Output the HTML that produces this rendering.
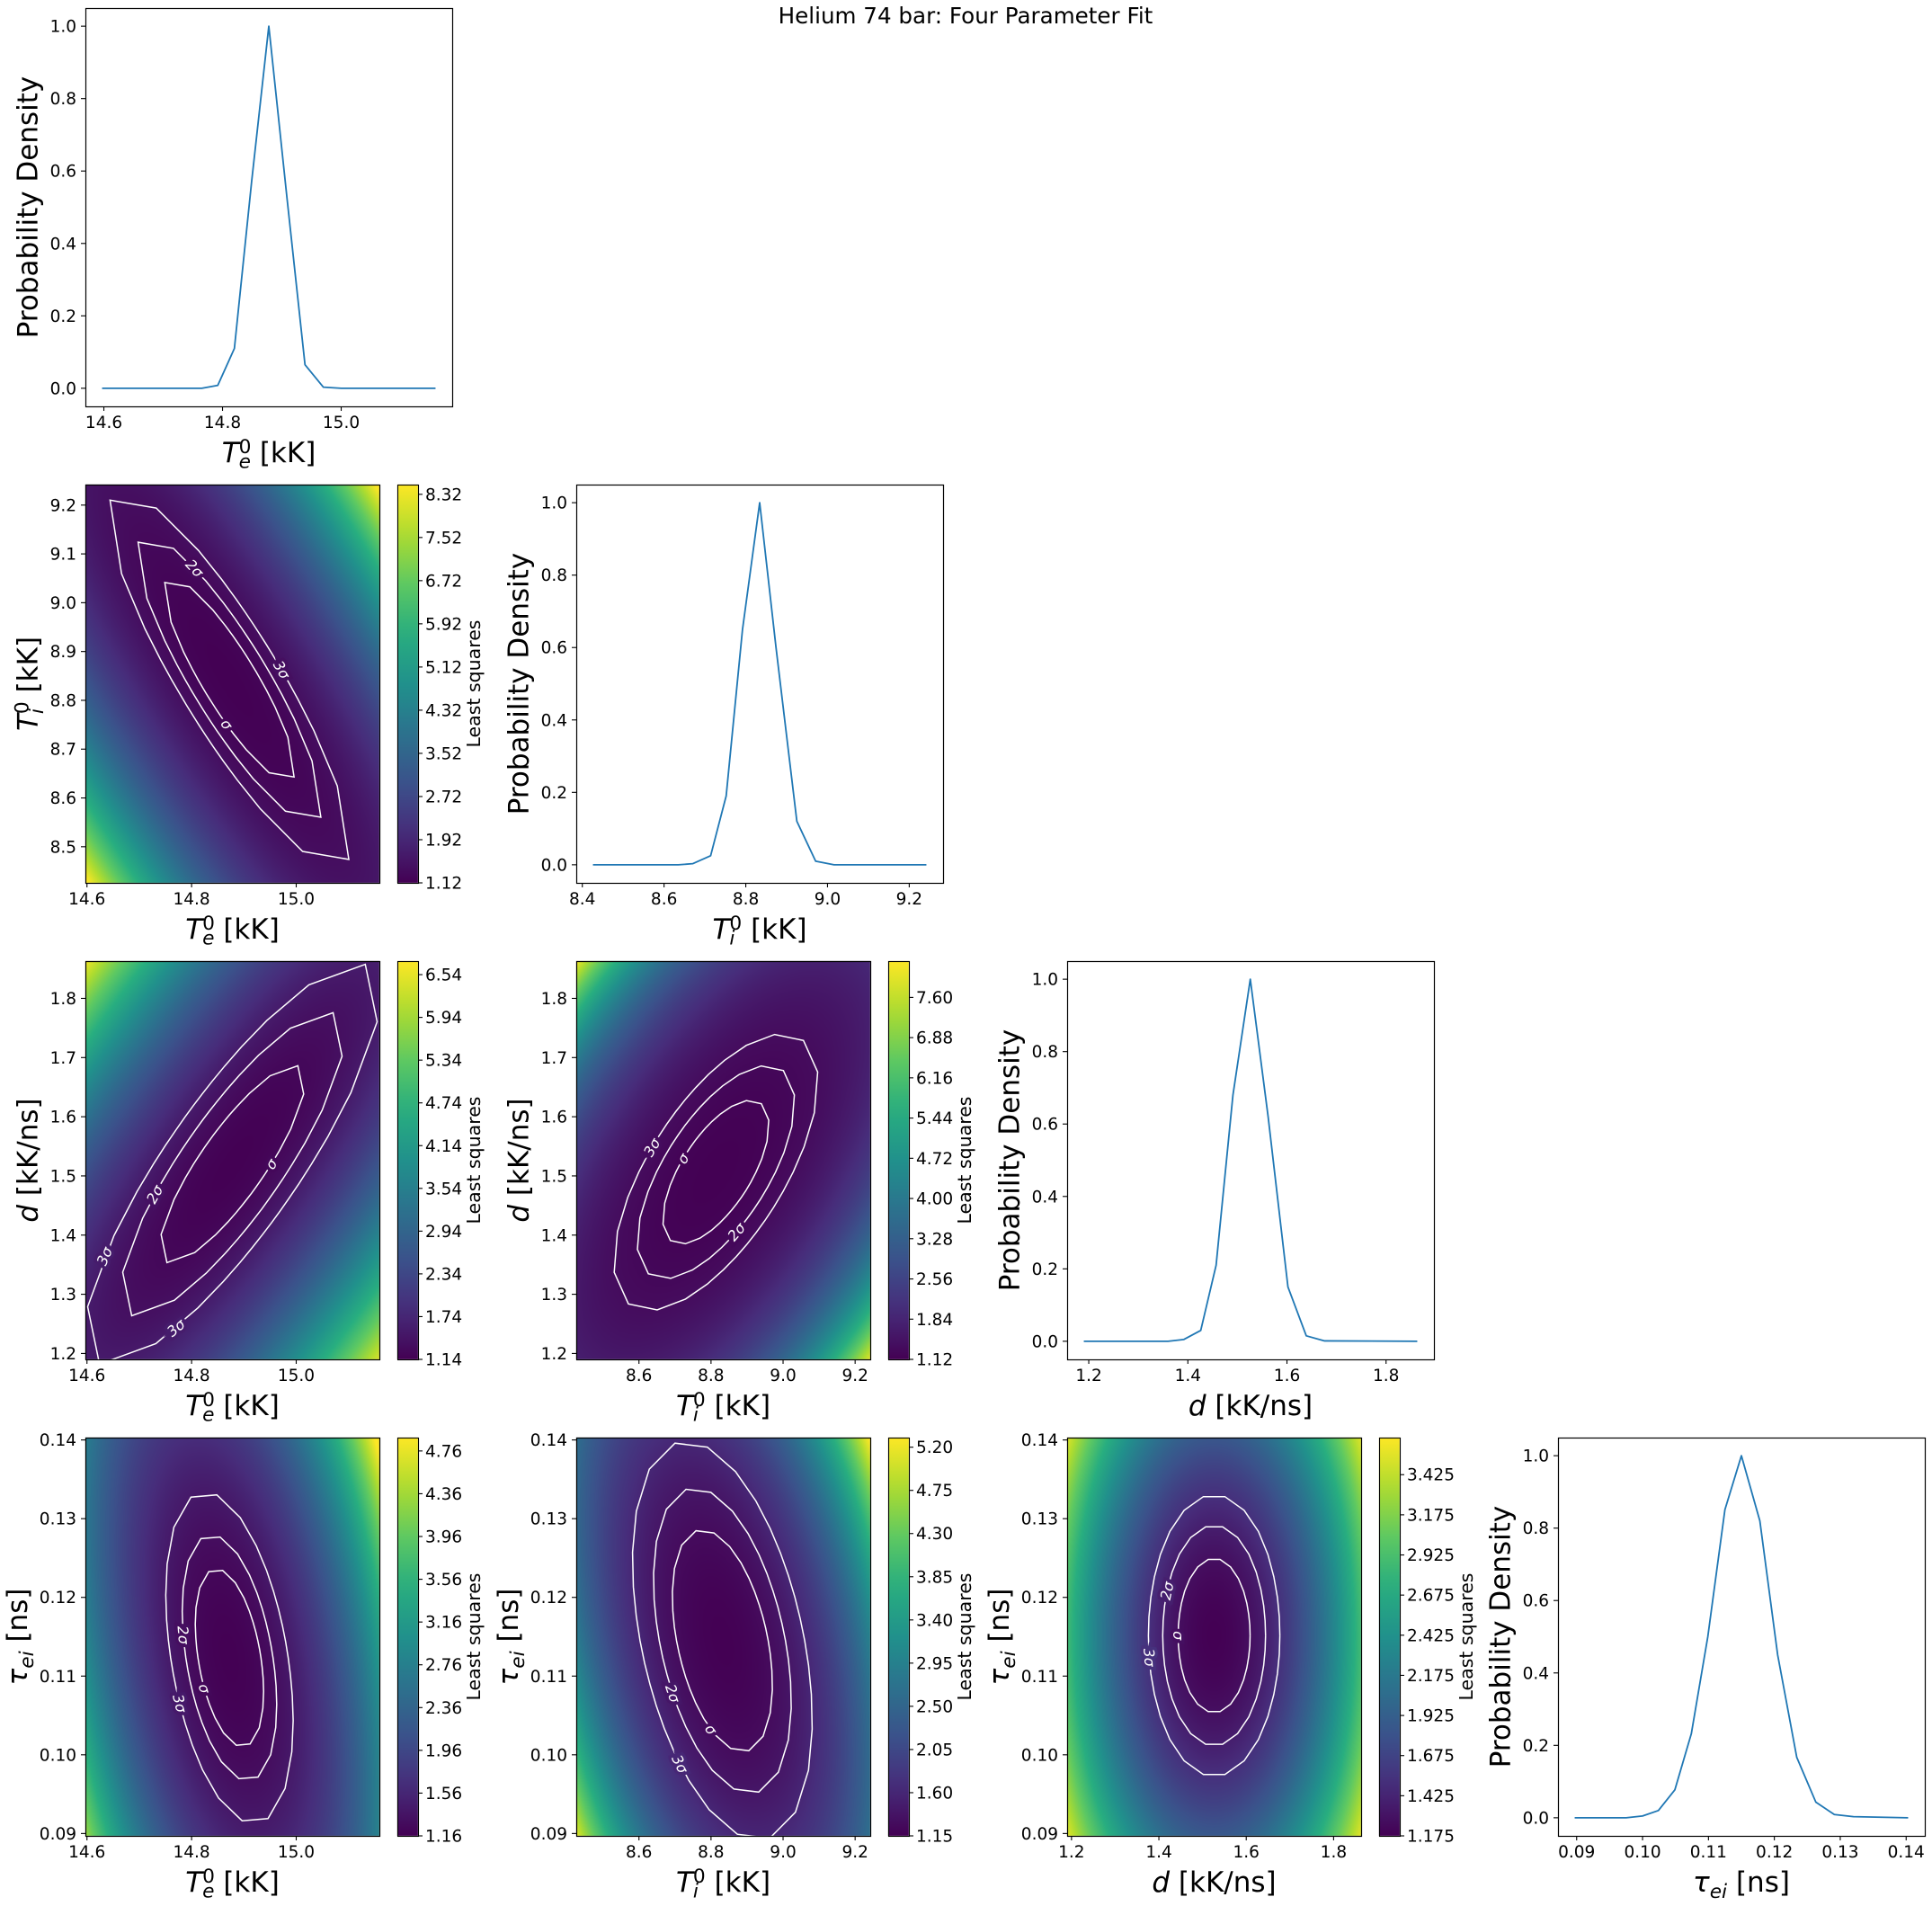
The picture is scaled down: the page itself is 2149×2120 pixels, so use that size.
<!DOCTYPE html>
<html>
<head>
<meta charset="utf-8">
<style>
  html,body{margin:0;padding:0;background:#fff;}
  #wrap{position:relative;width:2149px;height:2120px;overflow:hidden;background:#fff;}
  #heat{position:absolute;left:0;top:0;}
  #fig{position:absolute;left:0;top:0;}
  text{font-family:"DejaVu Sans","Liberation Sans",sans-serif;}
</style>
</head>
<body>
<div id="wrap">
  <canvas id="heat" width="2149" height="2120"></canvas>
  <svg id="fig" width="2149" height="2120" xmlns="http://www.w3.org/2000/svg">
    <text x="1074" y="26" font-size="24.6" text-anchor="middle" fill="#000">Helium 74 bar: Four Parameter Fit</text>
  </svg>
</div>
<script>
// ---------- data ----------
const teRange = [14.597, 15.159];
const tiRange = [8.426, 9.242];
const dRange = [1.190, 1.863];
const tauRange = [0.0897, 0.1403];

const teX = [14.597, 14.765, 14.792, 14.820, 14.849, 14.878, 14.909, 14.939, 14.970, 15.000, 15.159];
const teY = [0, 0, 0.008, 0.11, 0.57, 1.0, 0.52, 0.065, 0.003, 0, 0];
const tiX = [8.426, 8.635, 8.670, 8.714, 8.752, 8.792, 8.834, 8.874, 8.925, 8.971, 9.016, 9.242];
const tiY = [0, 0, 0.003, 0.025, 0.19, 0.65, 1.0, 0.6, 0.12, 0.01, 0, 0];
const dX = [1.190, 1.360, 1.392, 1.426, 1.457, 1.491, 1.526, 1.562, 1.602, 1.639, 1.676, 1.863];
const dY = [0, 0, 0.005, 0.03, 0.21, 0.68, 1.0, 0.62, 0.15, 0.015, 0.001, 0];
const tauX = [0.0897, 0.0975, 0.1000, 0.1024, 0.1049, 0.1074, 0.1099, 0.1125, 0.1150, 0.1178, 0.1205, 0.1234, 0.1263, 0.1291, 0.1320, 0.1403];
const tauY = [0, 0, 0.005, 0.02, 0.077, 0.232, 0.50, 0.851, 1.0, 0.82, 0.45, 0.167, 0.043, 0.009, 0.003, 0];

const probTicks = [0, 0.2, 0.4, 0.6, 0.8, 1.0];
const probTickLabels = ["0.0", "0.2", "0.4", "0.6", "0.8", "1.0"];
const teLineTicks = [14.6, 14.8, 15.0];
const teLineTickLabels = ["14.6", "14.8", "15.0"];
const tiLineTicks = [8.4, 8.6, 8.8, 9.0, 9.2];
const tiLineTickLabels = ["8.4", "8.6", "8.8", "9.0", "9.2"];
const dLineTicks = [1.2, 1.4, 1.6, 1.8];
const dLineTickLabels = ["1.2", "1.4", "1.6", "1.8"];
const tauLineTicks = [0.09, 0.10, 0.11, 0.12, 0.13, 0.14];
const tauLineTickLabels = ["0.09", "0.10", "0.11", "0.12", "0.13", "0.14"];

const teHmTicks = [14.6, 14.8, 15.0];
const teHmTickLabels = ["14.6", "14.8", "15.0"];
const tiHmXTicks = [8.6, 8.8, 9.0, 9.2];
const tiHmXTickLabels = ["8.6", "8.8", "9.0", "9.2"];
const tiHmYTicks = [8.5, 8.6, 8.7, 8.8, 8.9, 9.0, 9.1, 9.2];
const tiHmYTickLabels = ["8.5", "8.6", "8.7", "8.8", "8.9", "9.0", "9.1", "9.2"];
const dHmXTicks = [1.2, 1.4, 1.6, 1.8];
const dHmXTickLabels = ["1.2", "1.4", "1.6", "1.8"];
const dHmYTicks = [1.2, 1.3, 1.4, 1.5, 1.6, 1.7, 1.8];
const dHmYTickLabels = ["1.2", "1.3", "1.4", "1.5", "1.6", "1.7", "1.8"];
const tauHmTicks = [0.09, 0.10, 0.11, 0.12, 0.13, 0.14];
const tauHmTickLabels = ["0.09", "0.10", "0.11", "0.12", "0.13", "0.14"];

// heatmap models: center (normalized), quadratic coefs [a,b,c], [linear scale, quartic k], colour range, contour levels
const hmTeTiCenter = [0.49, 0.51];
const hmTeTiCoef = [7.5, 5.7, 11.5];
const hmTeTiShape = [1, 0.038];
const hmTeTiRange = [1.12, 8.50];
const hmTeTiLevels = [0.085, 0.17, 0.29];
const hmTeTiCbar = ["1.12", "1.92", "2.72", "3.52", "4.32", "5.12", "5.92", "6.72", "7.52", "8.32"];

const hmTeDCenter = [0.50, 0.49];
const hmTeDCoef = [6.5, 6.5, -11];
const hmTeDShape = [0.9, 0];
const hmTeDRange = [1.14, 6.73];
const hmTeDLevels = [0.114, 0.27, 0.47];
const hmTeDCbar = ["1.14", "1.74", "2.34", "2.94", "3.54", "4.14", "4.74", "5.34", "5.94", "6.54"];

const hmTiDCenter = [0.475, 0.47];
const hmTiDCoef = [2.9, 2.9, -3.8];
const hmTiDShape = [1, 0.79];
const hmTiDRange = [1.12, 8.25];
const hmTiDLevels = [0.054, 0.119, 0.2];
const hmTiDCbar = ["1.12", "1.84", "2.56", "3.28", "4.00", "4.72", "5.44", "6.16", "6.88", "7.60"];

const hmTeTauCenter = [0.49, 0.447];
const hmTeTauCoef = [10, 2.7, 4];
const hmTeTauShape = [0.62, 0.055];
const hmTeTauRange = [1.16, 4.885];
const hmTeTauLevels = [0.115, 0.22, 0.4];
const hmTeTauCbar = ["1.16", "1.56", "1.96", "2.36", "2.76", "3.16", "3.56", "3.96", "4.36", "4.76"];

const hmTiTauCenter = [0.497, 0.49];
const hmTiTauCoef = [5.1, 1.9, 2.5];
const hmTiTauShape = [1, 0.31];
const hmTiTauRange = [1.15, 5.30];
const hmTiTauLevels = [0.124, 0.235, 0.4];
const hmTiTauCbar = ["1.15", "1.60", "2.05", "2.50", "2.95", "3.40", "3.85", "4.30", "4.75", "5.20"];

const hmDTauCenter = [0.5, 0.503];
const hmDTauCoef = [8, 3.2, 0];
const hmDTauShape = [0.85, 0];
const hmDTauRange = [1.175, 3.656];
const hmDTauLevels = [0.12, 0.245, 0.4];
const hmDTauCbar = ["1.175", "1.425", "1.675", "1.925", "2.175", "2.425", "2.675", "2.925", "3.175", "3.425"];

// ---------- layout / style ----------
const colL = [95, 641, 1187, 1733];
const rowT = [9, 539, 1069, 1599];
const AH = 443, LW = 408, HW = 327;
const TICKF = 18.5, LABF = 31;
const NS = 'http://www.w3.org/2000/svg';
const svg = document.getElementById('fig');
const ctx = document.getElementById('heat').getContext('2d');
const VIR = [[68,1,84],[71,45,123],[59,82,139],[44,114,142],[33,145,140],[40,174,128],[94,201,98],[173,220,48],[253,231,37]];
function viridis(t){t=Math.max(0,Math.min(1,t));const p=t*(VIR.length-1);const i=Math.min(VIR.length-2,Math.floor(p));const f=p-i;const a=VIR[i],b=VIR[i+1];return [a[0]+(b[0]-a[0])*f,a[1]+(b[1]-a[1])*f,a[2]+(b[2]-a[2])*f];}
function rgb(c){return 'rgb('+Math.round(c[0])+','+Math.round(c[1])+','+Math.round(c[2])+')';}
function mk(tag, attrs, parent){const e=document.createElementNS(NS,tag);for(const k in attrs)e.setAttribute(k,attrs[k]);(parent||svg).appendChild(e);return e;}
function tw(s){let w=0;for(const ch of s)w+=(ch==='.'?0.318:0.636);return w*TICKF;}

function labelHTML(kind){
  if(kind==='Te'||kind==='Ti'){
    const sub = kind==='Te'?'e':'i';
    const extra = kind==='Te'?0:7.8;
    return '<tspan font-style="italic">T</tspan><tspan font-size="21.7" dy="-10">0</tspan><tspan font-size="21.7" font-style="italic" dx="-13.8" dy="16.5">'+sub+'</tspan><tspan dx="'+extra+'" dy="-6.5">&#160;[kK]</tspan>';
  }
  if(kind==='d') return '<tspan font-style="italic">d</tspan><tspan>&#160;[kK/ns]</tspan>';
  return '<tspan font-style="italic">τ</tspan><tspan font-size="21.7" font-style="italic" dy="7">ei</tspan><tspan dy="-7">&#160;[ns]</tspan>';
}

function axisFrame(x,y,w,h){
  const r=mk('rect',{x:x+0.5,y:y+0.5,width:w,height:h,fill:'none',stroke:'#000','stroke-width':1.2});
  
  
}
function xTicks(left,bottom,sx,ticks,labels){
  ticks.forEach((v,i)=>{
    const px=sx(v);
    const l=mk('line',{x1:px,x2:px,y1:bottom,y2:bottom+5,stroke:'#000','stroke-width':1.1});
    
    
    const t=mk('text',{x:px,y:bottom+24,'font-size':TICKF,'text-anchor':'middle',fill:'#000'});
    t.textContent=labels[i];
    
    
  });
}
function yTicks(left,sy,ticks,labels){
  ticks.forEach((v,i)=>{
    const py=sy(v);
    const l=mk('line',{x1:left-5,x2:left,y1:py,y2:py,stroke:'#000','stroke-width':1.1});
    
    
    const t=mk('text',{x:left-10,y:py+6.5,'font-size':TICKF,'text-anchor':'end',fill:'#000'});
    t.textContent=labels[i];
    
    
  });
}
function xLabel(cx,bottom,kind){
  const t=mk('text',{x:cx,y:bottom+62,'font-size':LABF,'text-anchor':'middle',fill:'#000'});
  t.innerHTML=labelHTML(kind);
  
  
}
function yLabelText(bx,cy,html){
  const t=mk('text',{x:0,y:0,'font-size':LABF,'text-anchor':'middle',fill:'#000',transform:'translate('+bx+','+cy+') rotate(-90)'});
  t.innerHTML=html;
  
  
}

// ---------- line (marginal) panels ----------
function linePanel(col,row,xs,ys,ticks,tickLabels,kind){
  const left=colL[col], top=rowT[row], bottom=top+AH;
  const mn=Math.min(...xs), mx=Math.max(...xs), sp=mx-mn;
  const x0=mn-0.05*sp, x1=mx+0.05*sp;
  const sx=v=>left+(v-x0)/(x1-x0)*LW;
  const sy=v=>top+(1.05-v)/1.1*AH;
  const pts=xs.map((x,i)=>sx(x).toFixed(2)+','+sy(ys[i]).toFixed(2)).join(' ');
  const pl=mk('polyline',{points:pts,fill:'none',stroke:'#1f77b4','stroke-width':1.8,'stroke-linejoin':'round'});
  
  
  axisFrame(left,top,LW,AH);
  xTicks(left,bottom,sx,ticks,tickLabels);
  yTicks(left,sy,probTicks,probTickLabels);
  xLabel(left+LW/2,bottom,kind);
  yLabelText(left-10-tw('0.0')-14,top+AH/2,'Probability Density');
}

// ---------- heatmap panels ----------
function heatPanel(col,row,xr,yr,center,coef,shape,crange,levels,cbarLabels,xt,xtl,yt,ytl,xkind,ykind,labelAngles){
  const left=colL[col], top=rowT[row], bottom=top+AH;
  const [cu,cv]=center,[a,b,c]=coef,[s,k]=shape,[fmin,fmax]=crange;
  const model=(u,v)=>{const du=u-cu,dv=v-cv;const q=a*du*du+b*dv*dv+c*du*dv;return fmin+s*q+k*q*q;};
  const img=ctx.createImageData(HW,AH);
  for(let j=0;j<AH;j++){
    const v=1-(j+0.5)/AH;
    for(let i=0;i<HW;i++){
      const u=(i+0.5)/HW;
      const col3=viridis((model(u,v)-fmin)/(fmax-fmin));
      const o=(j*HW+i)*4;
      img.data[o]=col3[0];img.data[o+1]=col3[1];img.data[o+2]=col3[2];img.data[o+3]=255;
    }
  }
  ctx.putImageData(img,left,top);
  // colorbar
  const cbx=left+HW+20, cbw=23;
  const grd=ctx.createLinearGradient(0,bottom,0,top);
  for(let t=0;t<=1.0001;t+=0.05)grd.addColorStop(Math.min(1,t),rgb(viridis(t)));
  ctx.fillStyle=grd;ctx.fillRect(cbx,top,cbw,AH);
  const cbr=mk('rect',{x:cbx+0.5,y:top+0.5,width:cbw,height:AH,fill:'none',stroke:'#000','stroke-width':1.1});
  
  
  let maxw=0;
  cbarLabels.forEach(lab=>{
    const v=parseFloat(lab);
    const py=bottom-(v-fmin)/(fmax-fmin)*AH;
    const l=mk('line',{x1:cbx+cbw,x2:cbx+cbw+5,y1:py,y2:py,stroke:'#000','stroke-width':1.1});
    
    
    const t=mk('text',{x:cbx+cbw+8,y:py+6.5,'font-size':TICKF,fill:'#000'});
    t.textContent=lab;
    
    
    maxw=Math.max(maxw,tw(lab));
  });
  const cl=mk('text',{x:0,y:0,'font-size':20.5,'text-anchor':'middle',fill:'#000',transform:'translate('+(cbx+cbw+maxw+28)+','+(top+AH/2)+') rotate(-90)'});
  cl.textContent='Least squares';
  
  
  // contours
  const clipId='clip'+col+row;
  const cp=mk('clipPath',{id:clipId});
  mk('rect',{x:left,y:top,width:HW,height:AH},cp);
  const g=mk('g',{'clip-path':'url(#'+clipId+')'});
  
  
  const ell=(L,th)=>{const ct=Math.cos(th),st=Math.sin(th);const r=Math.sqrt(L/(a*ct*ct+b*st*st+c*ct*st));return [left+(cu+r*ct)*HW, top+(1-(cv+r*st))*AH];};
  const names=['σ','2σ','3σ'];
  levels.forEach((L,li)=>{
    const pts=[];
    for(let n=0;n<=30;n++){const p=ell(L,n/30*2*Math.PI);pts.push(p[0].toFixed(1)+','+p[1].toFixed(1));}
    const pl=mk('polyline',{points:pts.join(' '),fill:'none',stroke:'#fff','stroke-width':1.5},g);
    
    
  });
  labelAngles.forEach(([li,deg])=>{
    const th=deg*Math.PI/180;
    const p=ell(levels[li],th), p1=ell(levels[li],th-0.04), p2=ell(levels[li],th+0.04);
    let ang=Math.atan2(p2[1]-p1[1],p2[0]-p1[0])*180/Math.PI;
    if(ang>90)ang-=180; if(ang<-90)ang+=180;
    const u=(p[0]-left)/HW, v=1-(p[1]-top)/AH;
    const bg=rgb(viridis((model(u,v)-fmin)/(fmax-fmin)));
    const t=mk('text',{x:0,y:0,'font-size':16,'text-anchor':'middle','dominant-baseline':'central',fill:'#fff',stroke:bg,'stroke-width':7,'paint-order':'stroke','font-style':'italic',transform:'translate('+p[0].toFixed(1)+','+p[1].toFixed(1)+') rotate('+ang.toFixed(1)+')'},g);
    t.textContent=names[li];
    
    
  });
  axisFrame(left,top,HW,AH);
  const sx=v=>left+(v-xr[0])/(xr[1]-xr[0])*HW;
  const sy=v=>top+(yr[1]-v)/(yr[1]-yr[0])*AH;
  xTicks(left,bottom,sx,xt,xtl);
  yTicks(left,sy,yt,ytl);
  xLabel(left+HW/2,bottom,xkind);
  const ytw=Math.max(...ytl.map(tw));
  yLabelText(left-10-ytw-14,top+AH/2,labelHTML(ykind));
}

linePanel(0,0,teX,teY,teLineTicks,teLineTickLabels,'Te');
linePanel(1,1,tiX,tiY,tiLineTicks,tiLineTickLabels,'Ti');
linePanel(2,2,dX,dY,dLineTicks,dLineTickLabels,'d');
linePanel(3,3,tauX,tauY,tauLineTicks,tauLineTickLabels,'tau');

heatPanel(0,1,teRange,tiRange,hmTeTiCenter,hmTeTiCoef,hmTeTiShape,hmTeTiRange,hmTeTiLevels,hmTeTiCbar,teHmTicks,teHmTickLabels,tiHmYTicks,tiHmYTickLabels,'Te','Ti',[[0,-95],[1,113],[2,8]]);
heatPanel(0,2,teRange,dRange,hmTeDCenter,hmTeDCoef,hmTeDShape,hmTeDRange,hmTeDLevels,hmTeDCbar,teHmTicks,teHmTickLabels,dHmYTicks,dHmYTickLabels,'Te','d',[[0,0],[1,196],[2,208],[2,245]]);
heatPanel(1,2,tiRange,dRange,hmTiDCenter,hmTiDCoef,hmTiDShape,hmTiDRange,hmTiDLevels,hmTiDCbar,tiHmXTicks,tiHmXTickLabels,dHmYTicks,dHmYTickLabels,'Ti','d',[[2,164],[0,163],[1,-65]]);
heatPanel(0,3,teRange,tauRange,hmTeTauCenter,hmTeTauCoef,hmTeTauShape,hmTeTauRange,hmTeTauLevels,hmTeTauCbar,teHmTicks,teHmTickLabels,tauHmTicks,tauHmTickLabels,'Te','tau',[[1,160],[0,222],[2,214]]);
heatPanel(1,3,tiRange,tauRange,hmTiTauCenter,hmTiTauCoef,hmTiTauShape,hmTiTauRange,hmTiTauLevels,hmTiTauCbar,tiHmXTicks,tiHmXTickLabels,tauHmTicks,tauHmTickLabels,'Ti','tau',[[1,218],[0,260],[2,245]]);
heatPanel(2,3,dRange,tauRange,hmDTauCenter,hmDTauCoef,hmDTauShape,hmDTauRange,hmDTauLevels,hmDTauCbar,dHmXTicks,dHmXTickLabels,tauHmTicks,tauHmTickLabels,'d','tau',[[1,145],[0,180],[2,194]]);
</script>
</body>
</html>
